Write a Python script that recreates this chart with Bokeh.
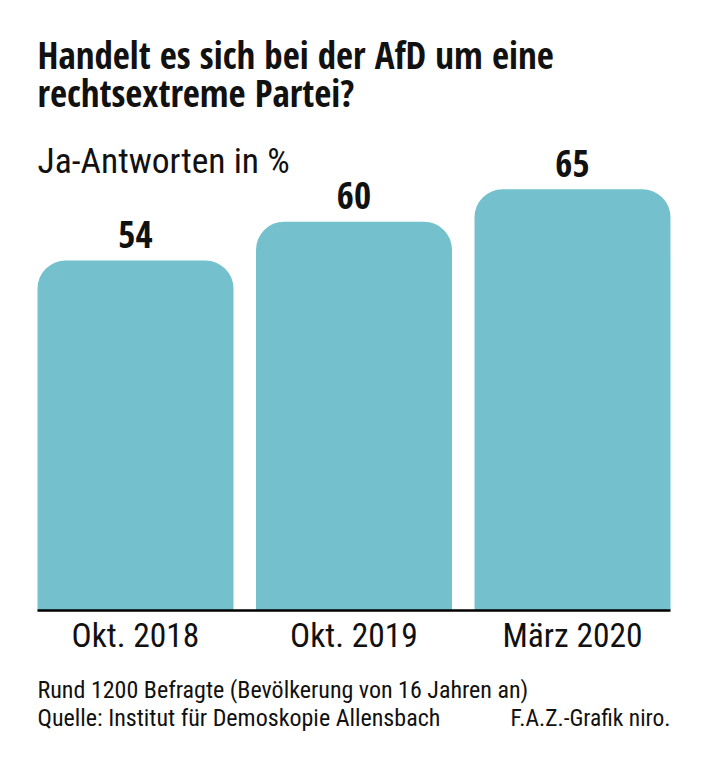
from bokeh.plotting import figure
from bokeh.models import Range1d, Label
from bokeh.embed import file_html
from bokeh.resources import INLINE
from bokeh.core.properties import value

# ---- data ----
categories = ["Okt. 2018", "Okt. 2019", "März 2020"]
values = [54, 60, 65]
title_lines = ["Handelt es sich bei der AfD um eine", "rechtsextreme Partei?"]
subtitle = "Ja-Antworten in %"
footer_lines = ["Rund 1200 Befragte (Bevölkerung von 16 Jahren an)",
                "Quelle: Institut für Demoskopie Allensbach"]
credit = "F.A.Z.-Grafik niro."

# ---- style / layout ----
BAR_COLOR = "#74c1cd"
TEXT_COLOR = "#111111"
BOLD_FONT = "'Open Sans Condensed', 'Roboto Condensed', sans-serif"
REG_FONT = "'Roboto Condensed', 'DejaVu Sans Condensed', sans-serif"

W, H = 709, 768
PLOT_LEFT, PLOT_RIGHT = 37, 670     # pixel extent of the bar block
BASE_Y = 610                        # pixel row of the zero line
PX_PER_PCT = 6.48                   # vertical scale
bar_w = 0.897                       # bar width in category units
n = len(categories)
xs = list(range(n))
step = (PLOT_RIGHT - PLOT_LEFT) / (n - 1 + bar_w)
x_start = -bar_w / 2 - PLOT_LEFT / step
y_start = -(H - BASE_Y) / PX_PER_PCT

p = figure(width=W, height=H, output_backend="svg", toolbar_location=None,
           x_range=Range1d(x_start, x_start + W / step),
           y_range=Range1d(y_start, y_start + H / PX_PER_PCT),
           x_axis_location=None, y_axis_location=None, min_border=0)
p.grid.visible = False
p.outline_line_color = None
p.background_fill_color = "white"
p.border_fill_color = "white"

# bars with rounded top corners
p.vbar(x=xs, top=values, bottom=0, width=bar_w, fill_color=BAR_COLOR,
       line_color=None, border_radius=(28, 28, 0, 0))

# zero line
p.segment(x0=[-bar_w / 2], x1=[n - 1 + bar_w / 2], y0=[0], y1=[0],
          line_color="black", line_width=2.5)

# value labels
p.text(x=xs, y=values, text=[str(v) for v in values], y_offset=-26,
       text_align="center", text_baseline="alphabetic",
       text_font=value(BOLD_FONT), text_font_style="bold", text_font_size="37px",
       text_color=TEXT_COLOR)

# category labels
p.text(x=xs, y=[0] * n, text=categories, y_offset=25,
       text_align="center", text_baseline="alphabetic",
       text_font=value(REG_FONT), text_font_size="33.5px", text_color=TEXT_COLOR)


def add_label(text, x, y_from_top, size, font, bold=False, align="left"):
    p.add_layout(Label(x=x, y=H - y_from_top, x_units="screen", y_units="screen",
                       text=text, text_font=font, text_font_size=size,
                       text_font_style="bold" if bold else "normal",
                       text_color=TEXT_COLOR, text_baseline="alphabetic",
                       text_align=align))


add_label(title_lines[0], PLOT_LEFT, 54, "37px", BOLD_FONT, bold=True)
add_label(title_lines[1], PLOT_LEFT, 92, "37px", BOLD_FONT, bold=True)
add_label(subtitle, PLOT_LEFT, 160, "35.5px", REG_FONT)
add_label(footer_lines[0], PLOT_LEFT, 689, "24px", REG_FONT)
add_label(footer_lines[1], PLOT_LEFT, 717, "24px", REG_FONT)
add_label(credit, PLOT_RIGHT, 717, "23.5px", REG_FONT, align="right")

open("out.html", "w").write(file_html(p, INLINE))
